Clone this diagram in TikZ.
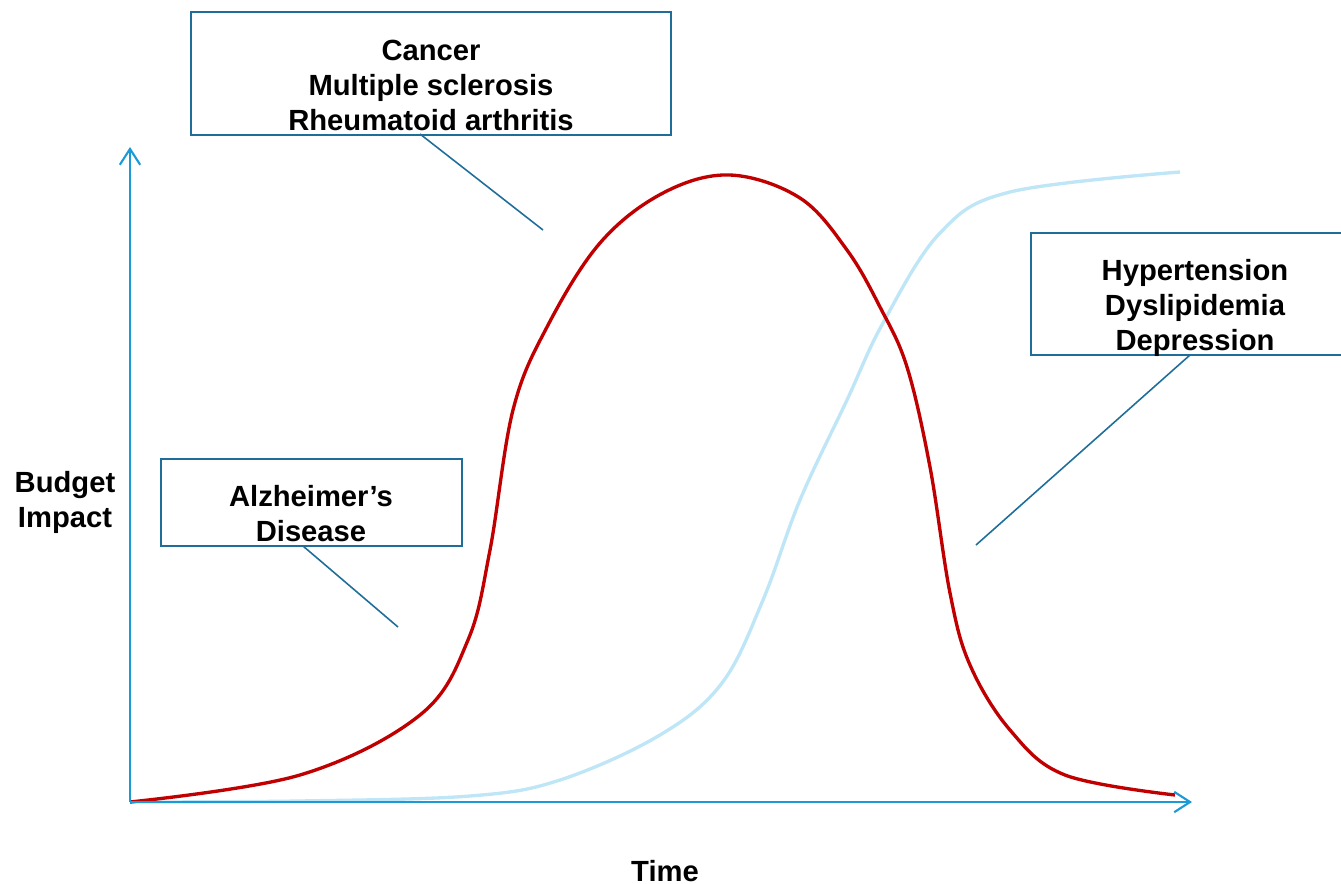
\documentclass[tikz,border=0pt]{standalone}
\usepackage{fontspec}
\setmainfont{Liberation Sans}
\usetikzlibrary{arrows.meta}
\definecolor{axisblue}{HTML}{1C9AD6}
\definecolor{boxblue}{HTML}{1F6E9A}
\definecolor{curvered}{HTML}{C00000}
\definecolor{lightcurve}{HTML}{BEE6F7}
\tikzset{
  px/.style={x=0.01cm,y=-0.01cm},
  axis/.style={draw=axisblue,line width=0.6pt},
  barb/.style={-{Straight Barb[length=4.5pt,width=5.8pt,line width=0.6pt]}},
  labelbox/.style={draw=boxblue,line width=0.45pt,anchor=north west,inner sep=0pt},
  lbl/.style={font=\bfseries\fontsize{8.3}{9.95}\selectfont,align=center,inner sep=0pt},
  conn/.style={draw=boxblue,line width=0.45pt},
}
\begin{document}
\begin{tikzpicture}[px]
\useasboundingbox (0,0) rectangle (1341,884);
% curves
\draw[lightcurve,line width=0.95pt] plot[smooth,tension=0.6] coordinates {
 (130,802) (300,801) (470,796) (560,780) (660,735) (722,683) (763,600) (800,500) (847,400) (883,323) (940,233) (1010,192) (1180,172)};
\draw[curvered,line width=0.95pt] plot[smooth,tension=0.6] coordinates {
 (130,802) (300,775) (420,715) (468,640) (490,550) (513,410) (547,327) (600,243) (663,193) (730,175) (800,198) (847,250) (880,307) (907,367) (930,467) (950,593) (970,665) (1010,730) (1065,775) (1175,795)};
% axes
\coordinate (O) at (130,802);
\coordinate (Ytip) at (130,147);
\coordinate (Xtip) at (1192,802);
\draw[axis,barb] (O) -- (Ytip);
\draw[axis,barb] (O) -- (Xtip);
% boxes
\node[labelbox,minimum width=480*0.01cm,minimum height=123*0.01cm] (topbox) at (190,11) {};
\node[labelbox,minimum width=330*0.01cm,minimum height=122*0.01cm] (rightbox) at (1030,232) {};
\node[labelbox,minimum width=301*0.01cm,minimum height=87*0.01cm] (alzbox) at (160,458) {};
% texts
\node[lbl] (toptext) at (431,85) {Cancer\\Multiple sclerosis\\Rheumatoid arthritis};
\node[lbl] (righttext) at (1195,308) {Hypertension\\Dyslipidemia\\Depression};
\node[lbl] (alztext) at (311,514) {Alzheimer’s\\Disease};
\node[lbl] (ylabel) at (65,502) {Budget\\Impact};
\node[lbl] (xlabel) at (665,871) {Time};
% connectors
\coordinate (c1a) at (420,134);
\coordinate (c1b) at (543,230);
\coordinate (c2a) at (1190,355);
\coordinate (c2b) at (976,545);
\coordinate (c3a) at (303,546);
\coordinate (c3b) at (398,627);
\draw[conn] (c1a) -- (c1b);
\draw[conn] (c2a) -- (c2b);
\draw[conn] (c3a) -- (c3b);
\end{tikzpicture}
\end{document}
